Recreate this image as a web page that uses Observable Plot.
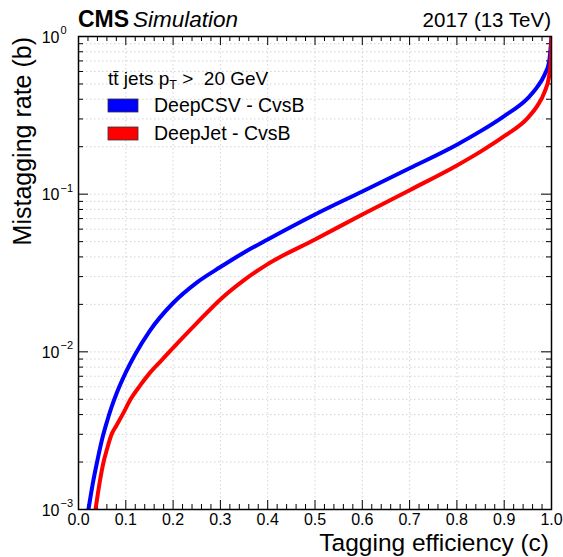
<!DOCTYPE html>
<html><head><meta charset="utf-8">
<script src="https://cdn.jsdelivr.net/npm/d3@7"></script>
<script src="https://cdn.jsdelivr.net/npm/@observablehq/plot@0.6"></script>
<style>
html,body{margin:0;padding:0;background:#fff;}
#chart{width:563px;height:557px;overflow:hidden;}
text{font-family:"Liberation Sans",Arial,Helvetica,sans-serif;}
</style></head><body><div id="chart"></div>
<script>
// DeepCSV - CvsB (tagging efficiency c, mistagging rate b)
const deepCSVEff = [0.021,0.03,0.04,0.05,0.06,0.07,0.08,0.10,0.12,0.15,0.20,0.25,0.30,0.35,0.40,0.50,0.60,0.70,0.80,0.85,0.90,0.95,0.97,0.985,0.995,1.0];
const deepCSVMis = [0.00100,0.00145,0.00205,0.0028,0.00359,0.00447,0.0054,0.00741,0.00966,0.0135,0.0204,0.0275,0.0345,0.0427,0.0516,0.0743,0.104,0.146,0.206,0.251,0.313,0.407,0.479,0.569,0.69,1.0];
// DeepJet - CvsB
const deepJetEff = [0.036,0.045,0.053,0.06,0.07,0.08,0.095,0.11,0.13,0.15,0.175,0.20,0.25,0.30,0.35,0.40,0.50,0.60,0.70,0.80,0.85,0.90,0.95,0.97,0.985,0.995,0.999,1.0];
const deepJetMis = [0.00100,0.0015,0.0020,0.0024,0.0030,0.0034,0.0041,0.0050,0.0061,0.0073,0.0088,0.0106,0.0152,0.0215,0.0285,0.036,0.0516,0.0743,0.106,0.152,0.186,0.233,0.305,0.363,0.442,0.562,0.74,1.0];

const seriesNames = ["DeepCSV - CvsB","DeepJet - CvsB"];
const seriesColors = ["#0000ff","#ff0000"];
const xTickValues = [0,0.1,0.2,0.3,0.4,0.5,0.6,0.7,0.8,0.9,1.0];
const xTickLabels = ["0.0","0.1","0.2","0.3","0.4","0.5","0.6","0.7","0.8","0.9","1.0"];
const yTickValues = [1e-3,1e-2,1e-1,1];
const yTickExponents = ["\u22123","\u22122","\u22121","0"];

const W = 563, H = 557;
const mL = 78, mR = 12, mT = 36, mB = 48;
const fw = W - mL - mR, fh = H - mT - mB;

const xMinor = d3.range(0, 51).map(i => i / 50).filter(v => Math.round(v * 50) % 5 !== 0);
const xGrid = xTickValues.slice(1, -1);
const yMinor = [];
for (const p of [1e-3, 1e-2, 1e-1]) for (let k = 2; k <= 9; k++) yMinor.push(k * p);
const yGrid = yMinor.concat([1e-2, 1e-1]);

const rows = [];
deepCSVEff.forEach((e, i) => rows.push({s: seriesNames[0], e, m: deepCSVMis[i]}));
deepJetEff.forEach((e, i) => rows.push({s: seriesNames[1], e, m: deepJetMis[i]}));

const tickStyle = {stroke: "#000", strokeWidth: 1};
const chart = Plot.plot({
  width: W, height: H,
  marginLeft: mL, marginRight: mR, marginTop: mT, marginBottom: mB,
  style: {fontFamily: "Liberation Sans, Arial, sans-serif", background: "#fff"},
  x: {domain: [0, 1], axis: null},
  y: {type: "log", domain: [1e-3, 1], axis: null},
  color: {domain: seriesNames, range: seriesColors},
  marks: [
    Plot.ruleX(xGrid, {x: d => d, stroke: "#c8c8c8", strokeWidth: 0.8, strokeDasharray: "1.5,2.5"}),
    Plot.ruleY(yGrid, {y: d => d, stroke: "#c8c8c8", strokeWidth: 0.8, strokeDasharray: "1.5,2.5"}),
    Plot.tickX(xTickValues, {x: d => d, insetTop: fh - 9, ...tickStyle}),
    Plot.tickX(xMinor, {x: d => d, insetTop: fh - 5, ...tickStyle}),
    Plot.tickX(xTickValues, {x: d => d, insetBottom: fh - 9, ...tickStyle}),
    Plot.tickX(xMinor, {x: d => d, insetBottom: fh - 5, ...tickStyle}),
    Plot.tickY(yTickValues, {y: d => d, insetRight: fw - 10, ...tickStyle}),
    Plot.tickY(yMinor, {y: d => d, insetRight: fw - 5, ...tickStyle}),
    Plot.tickY(yTickValues, {y: d => d, insetLeft: fw - 10, ...tickStyle}),
    Plot.tickY(yMinor, {y: d => d, insetLeft: fw - 5, ...tickStyle}),
    Plot.line(rows, {x: "e", y: "m", z: "s", stroke: "s", strokeWidth: 4, curve: "monotone-x", clip: true}),
    Plot.frame({stroke: "#000", strokeWidth: 1.5}),
    Plot.text(xTickValues, {x: d => d, text: (d, i) => xTickLabels[i], frameAnchor: "bottom", lineAnchor: "top", dy: 4, fontSize: 16, fill: "#000"}),
    Plot.text(yTickValues, {y: d => d, text: () => "10", frameAnchor: "left", textAnchor: "end", lineAnchor: "middle", dx: -19, dy: 1, fontSize: 16, fill: "#000"}),
    Plot.text(yTickValues, {y: d => d, text: (d, i) => yTickExponents[i], frameAnchor: "left", textAnchor: "start", lineAnchor: "middle", dx: -18, dy: -6, fontSize: 11, fill: "#000"})
  ]
});
document.getElementById("chart").appendChild(chart);

const svg = d3.select(chart);
const ff = "Liberation Sans, Arial, sans-serif";
function addText(x, y, str, opts = {}) {
  const t = svg.append("text").attr("x", x).attr("y", y).attr("font-family", ff)
    .attr("text-anchor", opts.anchor || "start").attr("font-size", opts.size || 18).attr("fill", "#000");
  if (opts.weight) t.attr("font-weight", opts.weight);
  if (opts.style) t.attr("font-style", opts.style);
  if (opts.transform) t.attr("transform", opts.transform).attr("x", null).attr("y", null);
  if (str != null) t.text(str);
  return t;
}
// header
addText(78, 27, "CMS", {weight: "bold", size: 23});
addText(133, 27, "Simulation", {style: "italic", size: 22.5});
addText(551, 27, "2017 (13 TeV)", {anchor: "end", size: 20.5});
// axis titles
addText(549, 551, "Tagging efficiency (c)", {anchor: "end", size: 24.5});
addText(0, 0, "Mistagging rate (b)", {anchor: "end", size: 25, transform: "translate(31,37) rotate(-90)"});
// legend
const ht = addText(108, 85, null, {size: 19});
ht.append("tspan").text("t");
ht.append("tspan").text("t\u0304");
ht.append("tspan").text(" jets p");
ht.append("tspan").attr("font-size", 12.5).attr("dy", 4).text("T");
ht.append("tspan").attr("dy", -4).text(" >  20 GeV");
seriesNames.forEach((name, i) => {
  const y = 99 + i * 28;
  svg.append("rect").attr("x", 108).attr("y", y).attr("width", 30).attr("height", 13)
    .attr("fill", seriesColors[i]).attr("stroke", "#333").attr("stroke-width", 0.8);
  addText(154, y + 13, name, {size: 19.5});
});
</script></body></html>
